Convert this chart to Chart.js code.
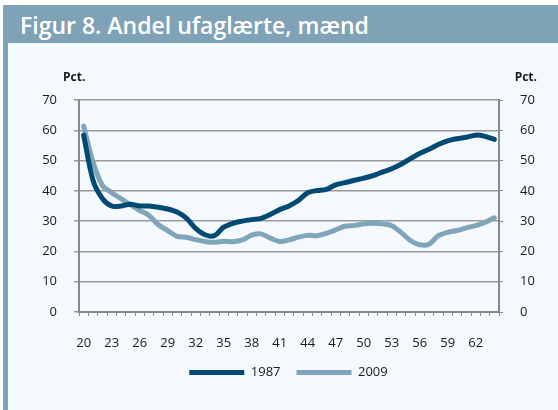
<!DOCTYPE html>
<html>
<head>
<meta charset="utf-8">
<script src="https://cdn.jsdelivr.net/npm/chart.js@4"></script>
<style>
  body { margin: 0; background: #ffffff; width: 558px; height: 410px; overflow: hidden; position: relative; font-family: "Open Sans", sans-serif; }
  #bar { position: absolute; left: 3px; top: 5px; width: 555px; height: 38px; background: #7fa2b7; }
  #bar span { position: absolute; left: 17px; top: 4px; color: #fff; font-size: 23px; font-weight: 600; white-space: nowrap; }
  #strip { position: absolute; left: 3px; top: 43px; width: 5px; height: 367px; background: #7fa2b7; }
  #box { position: absolute; left: 8px; top: 43px; width: 550px; height: 367px; background: #f4f9fd; }
</style>
</head>
<body>
<div id="bar"><span>Figur 8. Andel ufaglærte, mænd</span></div>
<div id="strip"></div>
<div id="box"><canvas id="chart" width="550" height="367"></canvas></div>
<script>
// ages 20-64
const ages = [];
for (let a = 20; a <= 64; a++) ages.push(String(a));

const y1987 = [58.4, 43.5, 37.5, 35.0, 35.0, 35.6, 35.0, 35.0, 34.6, 34.0,
               33.0, 31.0, 27.6, 25.5, 25.2, 28.0, 29.3, 30.0, 30.5, 30.9,
               32.2, 33.8, 35.0, 36.8, 39.4, 40.1, 40.5, 42.0, 42.7, 43.5,
               44.2, 45.0, 46.2, 47.3, 48.8, 50.6, 52.3, 53.7, 55.3, 56.5,
               57.2, 57.7, 58.4, 58.0, 57.0];
const y2009 = [61.4, 49.5, 41.8, 39.4, 37.4, 35.4, 33.5, 31.9, 28.8, 26.9,
               25.0, 24.7, 23.9, 23.3, 23.0, 23.4, 23.2, 23.8, 25.4, 25.8,
               24.4, 23.3, 23.8, 24.7, 25.3, 25.2, 26.0, 27.1, 28.3, 28.6,
               29.1, 29.3, 29.1, 28.5, 26.3, 23.6, 22.2, 22.4, 25.2, 26.3,
               26.9, 27.8, 28.5, 29.6, 31.1];
const yTicks = [0, 10, 20, 30, 40, 50, 60, 70];
const unit = "Pct.";

const tickFont = { family: "Open Sans", size: 13 };

const pctLabels = {
  id: "pctLabels",
  afterDraw(chart) {
    const ctx = chart.ctx;
    ctx.save();
    ctx.font = "bold 12px 'Open Sans'";
    ctx.fillStyle = "#1a1a1a";
    ctx.textBaseline = "middle";
    ctx.textAlign = "left";
    ctx.fillText(unit, 55, 35);
    ctx.textAlign = "right";
    ctx.fillText(unit, 529, 35);
    ctx.restore();
  }
};

new Chart(document.getElementById("chart"), {
  type: "line",
  data: {
    labels: ages,
    datasets: [
      { label: "1987", data: y1987, borderColor: "#004a73", backgroundColor: "#004a73",
        borderWidth: 5, pointRadius: 0, tension: 0.3, borderCapStyle: "round", borderJoinStyle: "round", yAxisID: "y" },
      { label: "2009", data: y2009, borderColor: "#80a4ba", backgroundColor: "#80a4ba",
        borderWidth: 5, pointRadius: 0, tension: 0.3, borderCapStyle: "round", borderJoinStyle: "round", yAxisID: "y" }
    ]
  },
  options: {
    responsive: false,
    animation: false,
    layout: { padding: { top: 57, left: 11, right: 0, bottom: 21 } },
    plugins: {
      tooltip: { enabled: false },
      legend: {
        position: "bottom",
        labels: {
          usePointStyle: true, pointStyle: "line", pointStyleWidth: 55,
          boxHeight: 13, padding: 16, color: "#1a1a1a", font: tickFont
        }
      }
    },
    scales: {
      x: {
        offset: true,
        grid: { offset: true, drawOnChartArea: false, tickLength: 4, color: "#888", lineWidth: 1 },
        border: { color: "#888", width: 2 },
        ticks: {
          autoSkip: false, maxRotation: 0, padding: 19, color: "#1a1a1a", font: tickFont,
          callback: (v, i) => (i % 3 === 0 ? ages[i] : "")
        },
        afterFit: s => { s.height = 38; }
      },
      y: {
        position: "left", min: 0, max: 70,
        afterBuildTicks: s => { s.ticks = yTicks.map(v => ({ value: v })); },
        grid: { color: "#9a9a9a", lineWidth: 1.5, tickLength: 5 },
        border: { color: "#888", width: 2 },
        ticks: { padding: 17, color: "#1a1a1a", font: tickFont },
        afterFit: s => { s.width = 60; }
      },
      y2: {
        position: "right", min: 0, max: 70,
        afterBuildTicks: s => { s.ticks = yTicks.map(v => ({ value: v })); },
        grid: { drawOnChartArea: false, color: "#888", tickLength: 4 },
        border: { color: "#888", width: 2 },
        ticks: { padding: 17, color: "#1a1a1a", font: tickFont },
        afterFit: s => { s.width = 59; }
      }
    }
  },
  plugins: [pctLabels]
});
</script>
</body>
</html>
